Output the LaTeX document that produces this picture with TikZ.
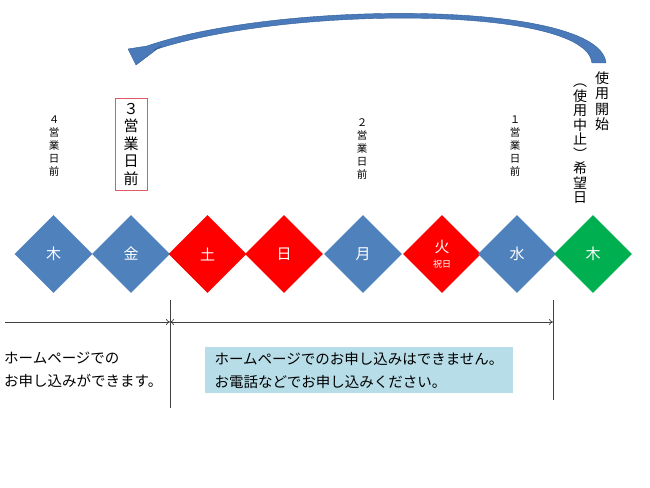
\documentclass[tikz,border=0pt]{standalone}
\usepackage{fontspec}
\newfontfamily\jp{Noto Sans CJK JP}
\usetikzlibrary{shapes.geometric,arrows.meta}
\definecolor{dblue}{RGB}{79,129,189}
\definecolor{dred}{RGB}{255,0,0}
\definecolor{dgreen}{RGB}{0,176,80}
\definecolor{boxblue}{RGB}{183,221,232}
\definecolor{boxred}{RGB}{222,90,100}
\definecolor{arrfill}{RGB}{74,122,186}
\definecolor{arredge}{RGB}{48,92,150}
\definecolor{linegray}{RGB}{64,64,64}
\begin{document}
\begin{tikzpicture}[x=1pt,y=-1pt,
  dia/.style={shape=diamond, minimum width=78pt, minimum height=78pt, inner sep=0pt, text=white, font={\jp\fontsize{15}{18}\selectfont}, align=center},
  bluedia/.style={dia, fill=dblue},
  reddia/.style={dia, fill=dred},
  greendia/.style={dia, fill=dgreen},
  vsmall/.style={align=center, inner sep=0pt, font={\jp\fontsize{10.5}{13}\selectfont}},
  vbig/.style={align=center, inner sep=0pt, font={\jp\fontsize{15}{17.5}\selectfont}},
  vright/.style={align=center, inner sep=0pt, font={\jp\fontsize{14}{15.5}\selectfont}},
  vleft/.style={align=center, inner sep=0pt, font={\jp\fontsize{14}{14.5}\selectfont}},
  body/.style={align=left, inner sep=0pt, font={\jp\fontsize{14.5}{23}\selectfont}},
  dimline/.style={draw=linegray, line width=0.7pt},
  dimarrow/.style={dimline, -{To[length=4pt,width=6pt]}},
  dimarrows/.style={dimline, {To[length=4pt,width=6pt]}-{To[length=4pt,width=6pt]}}
]
\useasboundingbox (0,0) rectangle (650,487);

% curved arrow
\fill[arrfill, draw=arredge, line width=0.4pt, line join=round]
  (606,63) .. controls (600,0) and (280,0) .. (147,46)
  -- (128,49) -- (136,65) -- (161,46) -- (154,50)
  .. controls (285,6) and (586,5) .. (592,63) -- cycle;

% diamonds
\node[bluedia]  (d1) at (53.5,254) {木};
\node[bluedia]  (d2) at (131,254) {金};
\node[reddia]   (d3) at (207.5,254) {土};
\node[reddia]   (d4) at (284,254) {日};
\node[bluedia]  (d5) at (363,254) {月};
\node[reddia]   (d6) at (442,254) {火\\[-3pt]{\fontsize{9}{10}\selectfont 祝日}};
\node[bluedia]  (d7) at (517,254) {水};
\node[greendia] (d8) at (593,254) {木};

% vertical labels
\node[vsmall] (l4) at (54,146) {４\\営\\業\\日\\前};
\node[vbig, draw=boxred, line width=0.6pt, minimum width=32pt, minimum height=92pt] (l3) at (131,144) {３\\営\\業\\日\\前};
\node[vsmall] (l2) at (362,149) {２\\営\\業\\日\\前};
\node[vsmall] (l1) at (515,146) {１\\営\\業\\日\\前};
\node[vright] (lr) at (602,101) {使\\用\\開\\始};
\node[vleft] (ll) at (580,144) {︵\\使\\用\\中\\止\\︶\\希\\望\\日};

% dimension lines
\coordinate (v1top) at (170,300);
\coordinate (v1bot) at (170,408);
\coordinate (v2top) at (553,300);
\coordinate (v2bot) at (553,400);
\coordinate (hstart) at (5,322);
\coordinate (hmid) at (170,322);
\coordinate (hend) at (553,322);
\draw[dimline] (v1top) -- (v1bot);
\draw[dimline] (v2top) -- (v2bot);
\draw[dimarrow] (hstart) -- (hmid);
\draw[dimarrows] (hmid) -- (hend);

% texts
\node[body, anchor=west] (tleft) at (4,370) {ホームページでの\\お申し込みができます。};
\node[fill=boxblue, minimum width=308pt, minimum height=46pt, inner sep=0pt] (tbox) at (359,370) {};
\node[body] (tboxtext) at (tbox.center) {ホームページでのお申し込みはできません。\\お電話などでお申し込みください。};
\end{tikzpicture}
\end{document}
